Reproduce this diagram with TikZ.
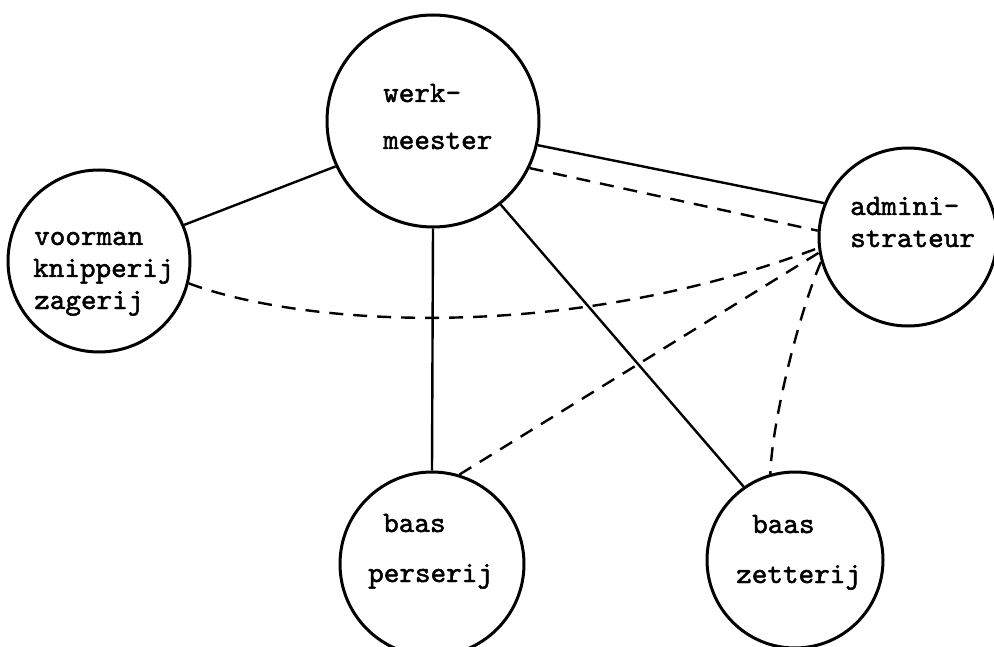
\documentclass[tikz,border=0pt]{standalone}
\usepackage{fontspec}
\newfontfamily\typewriter{lmmono10-regular.otf}[FakeBold=1.6]
\begin{document}
\begin{tikzpicture}[x=1pt,y=-1pt,
  role/.style={draw,circle,line width=3pt,inner sep=0pt},
  lbl/.style={anchor=base west,inner sep=0pt,font=\typewriter\fontsize{29.7}{32}\selectfont},
  tie/.style={line width=2.4pt},
  weak/.style={line width=2.4pt,dash pattern=on 14pt off 10pt}]
\useasboundingbox (0,0) rectangle (994,647);
% people as circles
\node[role,minimum size=212pt] (W) at (433,121) {};
\node[role,minimum size=182pt] (V) at (99,261) {};
\node[role,minimum size=178pt] (A) at (908,237) {};
\node[role,minimum size=184pt] (P) at (432,564) {};
\node[role,minimum size=176pt] (Z) at (795,560) {};
% names inside the circles
\node[lbl] (w1) at (383,102) {werk-};
\node[lbl] (w2) at (383,149) {meester};
\node[lbl] (v1) at (34,245) {voorman};
\node[lbl] (v2) at (33,277) {knipperij};
\node[lbl] (v3) at (34,309) {zagerij};
\node[lbl] (a1) at (850,215) {admini-};
\node[lbl] (a2) at (850,247) {strateur};
\node[lbl] (p1) at (383,532) {baas};
\node[lbl] (p2) at (368,582) {perserij};
\node[lbl] (z1) at (752,533) {baas};
\node[lbl] (z2) at (736,583) {zetterij};
% formal lines
\draw[tie] (W.205) -- (V.23);
\draw[tie] (W.270) -- (P.90);
\draw[tie] (W.-51) -- (Z.125.5);
\draw[tie] (W.-13.5) -- (A.158);
% informal lines
\draw[weak] (W.-26) -- (A.176);
\draw[weak] (V.-14) .. controls (300,325) and (560,345) .. (A.187);
\draw[weak] (P.73) -- (A.190);
\draw[weak] (A.196) .. controls (800,310) and (772,420) .. (Z.106.5);
\end{tikzpicture}
\end{document}
